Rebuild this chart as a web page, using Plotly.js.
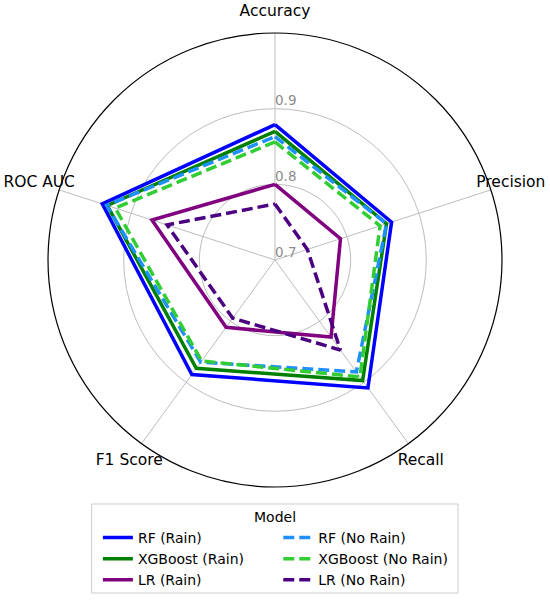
<!DOCTYPE html>
<html>
<head>
<meta charset="utf-8">
<script src="https://cdn.plot.ly/plotly-3.0.1.min.js"></script>
<style>
  html, body { margin: 0; padding: 0; background: white; }
  #chart { width: 550px; height: 604px; }
</style>
</head>
<body>
<div id="chart"></div>
<script>
// Métricas (eje angular)
const categories = ['Accuracy', 'Precision', 'Recall', 'F1 Score', 'ROC AUC'];

// Valores
const rfRain    = [0.879, 0.862, 0.909, 0.887, 0.940];
const xgbRain   = [0.870, 0.855, 0.897, 0.877, 0.933];
const lrRain    = [0.800, 0.791, 0.826, 0.810, 0.871];
const rfNoRain  = [0.863, 0.855, 0.883, 0.867, 0.934];
const xgbNoRain = [0.856, 0.846, 0.891, 0.865, 0.922];
const lrNoRain  = [0.774, 0.745, 0.847, 0.795, 0.850];

const radialTicks = [0.7, 0.8, 0.9];

// nombre, valores, color, estilo, leyenda (columna)
const series = [
    { name: 'RF (Rain)',          vals: rfRain,    color: '#0000ff', dash: 'solid',    legend: 'legend' },
    { name: 'XGBoost (Rain)',     vals: xgbRain,   color: '#008000', dash: 'solid',    legend: 'legend' },
    { name: 'LR (Rain)',          vals: lrRain,    color: '#800080', dash: 'solid',    legend: 'legend' },
    { name: 'RF (No Rain)',       vals: rfNoRain,  color: '#1e90ff', dash: '11px,5px', legend: 'legend2' },
    { name: 'XGBoost (No Rain)',  vals: xgbNoRain, color: '#32cd32', dash: '11px,5px', legend: 'legend2' },
    { name: 'LR (No Rain)',       vals: lrNoRain,  color: '#4b0082', dash: '11px,5px', legend: 'legend2' }
];

const data = series.map(s => ({
    type: 'scatterpolar',
    mode: 'lines',
    r: s.vals.concat([s.vals[0]]),          // cerrar el polígono
    theta: categories.concat([categories[0]]),
    name: s.name,
    legend: s.legend,
    line: { color: s.color, width: 3.5, dash: s.dash },
    hoverinfo: 'none'
}));

// Etiquetas radiales sobre el eje vertical
data.push({
    type: 'scatterpolar',
    mode: 'text',
    r: radialTicks,
    theta: radialTicks.map(() => categories[0]),
    text: radialTicks.map(v => v.toFixed(1)),
    textposition: 'top right',
    textfont: { family: 'DejaVu Sans', size: 13.5, color: '#8c8c8c' },
    cliponaxis: false,
    showlegend: false,
    hoverinfo: 'none'
});

// Etiquetas de las métricas: un segundo polar algo más grande, sólo texto en su borde
data.push({
    type: 'scatterpolar',
    subplot: 'polar2',
    mode: 'text',
    r: categories.map(() => 1),
    theta: categories,
    text: categories,
    textposition: 'middle center',
    textfont: { family: 'DejaVu Sans', size: 15.5, color: 'black' },
    cliponaxis: false,
    showlegend: false,
    hoverinfo: 'none'
});

const hiddenAngular = {
    direction: 'clockwise', rotation: 90, categoryarray: categories, categoryorder: 'array',
    showline: false, showgrid: false, ticks: '', showticklabels: false
};

const legendBase = {
    orientation: 'v',
    xanchor: 'left',
    yanchor: 'top',
    y: 0.136,
    bgcolor: 'rgba(0,0,0,0)',
    borderwidth: 0,
    traceorder: 'normal',
    font: { size: 14, color: 'black' }
};

const layout = {
    width: 550,
    height: 604,
    margin: { l: 0, r: 0, t: 0, b: 0 },
    paper_bgcolor: 'white',
    font: { family: 'DejaVu Sans', color: 'black' },
    showlegend: true,
    polar: {
        domain: { x: [0.0873, 0.9127], y: [0.1937, 0.9454] },
        bgcolor: 'white',
        angularaxis: {
            direction: 'clockwise',
            rotation: 90,
            showline: true,
            linecolor: 'black',
            linewidth: 1.2,
            gridcolor: '#bdbdbd',
            gridwidth: 1,
            ticks: '',
            showticklabels: false
        },
        radialaxis: {
            range: [0.7, 1.0],
            angle: 90,
            tickvals: radialTicks,
            showticklabels: false,
            showline: false,
            ticks: '',
            gridcolor: '#bdbdbd',
            gridwidth: 1
        }
    },
    polar2: {
        domain: { x: [0.0491, 0.9509], y: [0.1589, 0.9801] },
        bgcolor: 'rgba(0,0,0,0)',
        angularaxis: hiddenAngular,
        radialaxis: {
            range: [0, 1.0001], showline: false, showgrid: false,
            ticks: '', showticklabels: false
        }
    },
    // dos columnas de leyenda dentro de un mismo marco
    legend: Object.assign({}, legendBase, { x: 0.178 }),
    legend2: Object.assign({}, legendBase, { x: 0.506 }),
    shapes: [{
        type: 'rect', xref: 'paper', yref: 'paper',
        x0: 0.1667, x1: 0.8327, y0: 0.0182, y1: 0.1656,
        line: { color: '#cccccc', width: 1 },
        fillcolor: 'white',
        layer: 'below'
    }],
    annotations: [{
        text: 'Model', xref: 'paper', yref: 'paper',
        x: 0.5, y: 0.144, xanchor: 'center', yanchor: 'middle',
        showarrow: false, font: { size: 14, color: 'black' }
    }]
};

Plotly.newPlot('chart', data, layout, { displayModeBar: false, staticPlot: true });
</script>
</body>
</html>
